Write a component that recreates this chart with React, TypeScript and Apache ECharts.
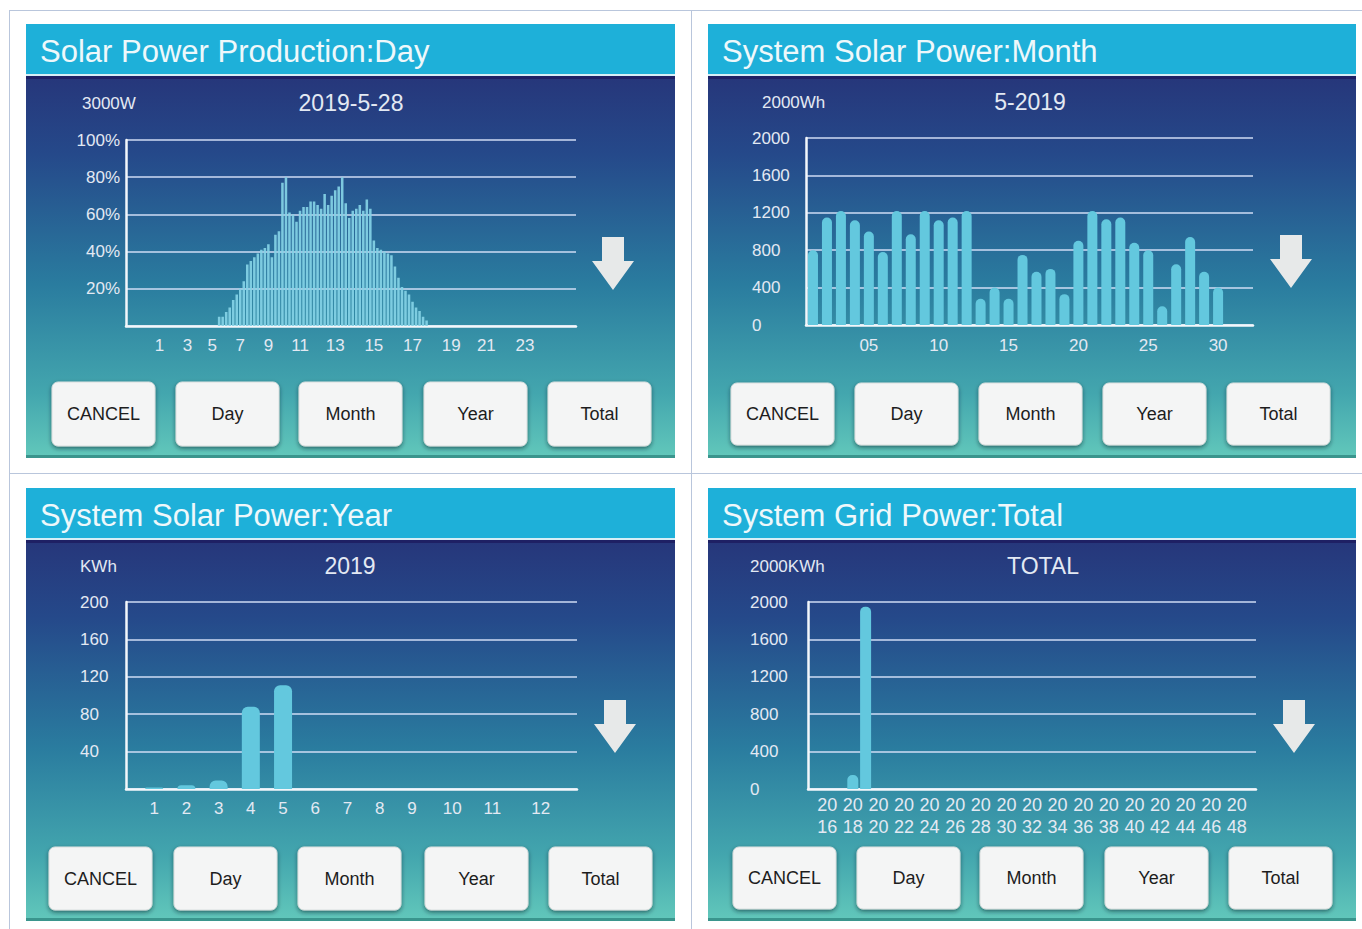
import React, { useEffect, useRef } from 'react';
import * as echarts from 'echarts';

const FONT = '"Liberation Sans", Arial, Helvetica, sans-serif';

// ---------- Panel 1: Day ----------
const dayTitle = 'Solar Power Production:Day';
const dayUnit = '3000W';
const dayDate = '2019-5-28';
const daySlotCount = 128;
const dayHourLabels = ['1', '3', '5', '7', '9', '11', '13', '15', '17', '19', '21', '23'];
const dayHourSlots = [9, 17, 24, 32, 40, 49, 59, 70, 81, 92, 102, 113];
const dayFirstBarSlot = 26;
const dayPercent = [
  5, 5, 7.5, 10, 14, 17, 20, 24, 33, 35, 37, 39, 41, 42, 44, 37, 49, 51, 77, 80,
  61, 60, 56, 62, 64, 64, 67, 67, 65, 63, 71, 65, 70, 73, 75, 80, 66, 58, 62, 63,
  65, 62, 68, 63, 46, 42, 41, 40, 39, 38, 32, 26, 21, 19, 17, 13, 10, 8, 5, 3,
];

// ---------- Panel 2: Month ----------
const monthTitle = 'System Solar Power:Month';
const monthUnit = '2000Wh';
const monthDate = '5-2019';
const monthDays = [1, 2, 3, 4, 5, 6, 7, 8, 9, 10, 11, 12, 13, 14, 15, 16, 17, 18, 19, 20, 21, 22, 23, 24, 25, 26, 27, 28, 29, 30];
const monthValues = [
  800, 1150, 1220, 1120, 1000, 780, 1220, 970, 1220, 1120, 1150, 1220, 280, 400, 280,
  750, 570, 600, 330, 900, 1220, 1130, 1150, 880, 800, 200, 650, 940, 570, 400,
];
const monthLabelDays = [5, 10, 15, 20, 25, 30];

// ---------- Panel 3: Year ----------
const yearTitle = 'System Solar Power:Year';
const yearUnit = 'KWh';
const yearDate = '2019';
const yearSlotCount = 56;
const yearMonths = ['1', '2', '3', '4', '5', '6', '7', '8', '9', '10', '11', '12'];
const yearMonthSlots = [3, 7, 11, 15, 19, 23, 27, 31, 35, 40, 45, 51];
const yearValues = [1.5, 4, 9, 88, 111, 0, 0, 0, 0, 0, 0, 0];

// ---------- Panel 4: Total ----------
const totalTitle = 'System Grid Power:Total';
const totalUnit = '2000KWh';
const totalDate = 'TOTAL';
const totalYears = [
  '2015', '2016', '2017', '2018', '2019', '2020', '2021', '2022', '2023', '2024', '2025', '2026',
  '2027', '2028', '2029', '2030', '2031', '2032', '2033', '2034', '2035', '2036', '2037', '2038',
  '2039', '2040', '2041', '2042', '2043', '2044', '2045', '2046', '2047', '2048', '2049',
];
const totalValueYears = ['2018', '2019'];
const totalValues = [150, 1950];

const buttonLabels = ['CANCEL', 'Day', 'Month', 'Year', 'Total'];

// ---------- layout ----------
const panels = [
  { x: 26, y: 24, w: 649, h: 434, title: dayTitle, unit: dayUnit, sub: dayDate, unitX: 82, subX: 351, textY: 103, arrowX: 613, arrowY: 237, btnY: 382, btnH: 64, btnX: [52, 176, 299, 424, 548] },
  { x: 708, y: 24, w: 648, h: 434, title: monthTitle, unit: monthUnit, sub: monthDate, unitX: 762, subX: 1030, textY: 102, arrowX: 1291, arrowY: 235, btnY: 383, btnH: 62, btnX: [731, 855, 979, 1103, 1227] },
  { x: 26, y: 488, w: 649, h: 433, title: yearTitle, unit: yearUnit, sub: yearDate, unitX: 80, subX: 350, textY: 566, arrowX: 615, arrowY: 700, btnY: 847, btnH: 63, btnX: [49, 174, 298, 425, 549] },
  { x: 708, y: 488, w: 648, h: 433, title: totalTitle, unit: totalUnit, sub: totalDate, unitX: 750, subX: 1043, textY: 566, arrowX: 1294, arrowY: 700, btnY: 847, btnH: 62, btnX: [733, 857, 980, 1105, 1229] },
];

const LABEL = '#e3e9f3';
const GRIDLINE = 'rgba(214,224,248,0.72)';
const AXIS = '#f3f7fb';
const BAR = '#63c8de';

function txt(x: number, y: number, text: string, size: number, fill: string, align = 'left', z = 10) {
  return {
    type: 'text',
    z,
    x,
    y,
    silent: true,
    style: {
      text,
      fill,
      fontSize: size,
      fontFamily: FONT,
      align,
      textAlign: align,
      verticalAlign: 'middle',
      textVerticalAlign: 'middle',
    },
  };
}

function panelElements(p: any) {
  const els: any[] = [];
  els.push({
    type: 'rect', z: -10, silent: true,
    shape: { x: p.x, y: p.y, width: p.w, height: p.h },
    style: {
      fill: {
        type: 'linear', x: 0, y: 0, x2: 0, y2: 1,
        colorStops: [
          { offset: 0, color: '#272a70' },
          { offset: 0.3, color: '#25498a' },
          { offset: 0.6, color: '#2a7c9f' },
          { offset: 0.85, color: '#43a6ae' },
          { offset: 1, color: '#62c8bb' },
        ],
      },
    },
  });
  els.push({ type: 'rect', z: -9, silent: true, shape: { x: p.x, y: p.y, width: p.w, height: 50 }, style: { fill: '#1eb0d9' } });
  els.push({ type: 'rect', z: -9, silent: true, shape: { x: p.x, y: p.y + 50, width: p.w, height: 2 }, style: { fill: '#d6eef6' } });
  els.push({ type: 'rect', z: -9, silent: true, shape: { x: p.x, y: p.y + 52, width: p.w, height: 3 }, style: { fill: '#1e2064' } });
  els.push({ type: 'rect', z: -9, silent: true, shape: { x: p.x, y: p.y + p.h - 3, width: p.w, height: 3 }, style: { fill: '#3a958d' } });
  els.push(txt(p.x + 14, p.y + 27, p.title, 31, '#eef8fb'));
  els.push(txt(p.unitX, p.textY, p.unit, 17, LABEL));
  els.push(txt(p.subX, p.textY, p.sub, 23, LABEL, 'center'));
  const cx = p.arrowX, t = p.arrowY;
  els.push({
    type: 'polygon', z: 10, silent: true,
    shape: { points: [[cx - 11, t], [cx + 11, t], [cx + 11, t + 24], [cx + 21, t + 24], [cx, t + 53], [cx - 21, t + 24], [cx - 11, t + 24]] },
    style: { fill: '#e7e9e9' },
  });
  p.btnX.forEach((bx: number, i: number) => {
    els.push({
      type: 'rect', z: 10, silent: true,
      shape: { x: bx, y: p.btnY, width: 103, height: p.btnH, r: 6 },
      style: { fill: '#f4f5f5', stroke: '#d9dede', lineWidth: 1, shadowBlur: 4, shadowOffsetY: 2, shadowColor: 'rgba(0,30,40,0.55)' },
    });
    els.push(txt(bx + 51.5, p.btnY + p.btnH / 2, buttonLabels[i], 18, '#1d1d1d', 'center', 11));
  });
  return els;
}

function buildOption() {
  // day categories
  const dayCats: string[] = [];
  const dayData: (number | null)[] = [];
  for (let i = 0; i < daySlotCount; i++) {
    const li = dayHourSlots.indexOf(i);
    dayCats.push(li >= 0 ? dayHourLabels[li] : '');
    const di = i - dayFirstBarSlot;
    dayData.push(di >= 0 && di < dayPercent.length ? dayPercent[di] : null);
  }
  // year categories
  const yearCats: string[] = [];
  const yearData: (number | null)[] = [];
  for (let i = 0; i < yearSlotCount; i++) {
    const mi = yearMonthSlots.indexOf(i);
    yearCats.push(mi >= 0 ? yearMonths[mi] : '');
    yearData.push(mi >= 0 ? yearValues[mi] : null);
  }
  const totalData = totalYears.map((y) => {
    const k = totalValueYears.indexOf(y);
    return k >= 0 ? totalValues[k] : null;
  });

  const yBase = (gridIndex: number, max: number, interval: number, margin: number, align: string, fmt: (v: number) => string) => ({
    type: 'value', gridIndex, min: 0, max, interval,
    axisLine: { show: true, lineStyle: { color: AXIS, width: 2.5 } },
    axisTick: { show: false },
    splitLine: { show: true, lineStyle: { color: GRIDLINE, width: 2 } },
    axisLabel: { color: LABEL, fontSize: 17, fontFamily: FONT, margin, align, formatter: fmt },
  });
  const xLine = { show: true, lineStyle: { color: AXIS, width: 2.5 } };

  const graphic: any[] = [];
  // table borders
  const bc = '#b9c6dc';
  graphic.push({ type: 'line', z: -20, silent: true, shape: { x1: 9, y1: 10.5, x2: 1362, y2: 10.5 }, style: { stroke: bc, lineWidth: 1 } });
  graphic.push({ type: 'line', z: -20, silent: true, shape: { x1: 9, y1: 473.5, x2: 1362, y2: 473.5 }, style: { stroke: bc, lineWidth: 1 } });
  graphic.push({ type: 'line', z: -20, silent: true, shape: { x1: 9.5, y1: 10, x2: 9.5, y2: 929 }, style: { stroke: bc, lineWidth: 1 } });
  graphic.push({ type: 'line', z: -20, silent: true, shape: { x1: 691.5, y1: 10, x2: 691.5, y2: 929 }, style: { stroke: bc, lineWidth: 1 } });
  panels.forEach((p) => graphic.push(...panelElements(p)));

  return {
    animation: false,
    backgroundColor: '#ffffff',
    textStyle: { fontFamily: FONT },
    grid: [
      { left: 126, top: 140, width: 450, height: 186 },
      { left: 806, top: 138, width: 447, height: 187 },
      { left: 126, top: 602, width: 451, height: 187 },
      { left: 808, top: 602, width: 448, height: 187 },
    ],
    xAxis: [
      {
        type: 'category', gridIndex: 0, data: dayCats, boundaryGap: true,
        axisLine: xLine, axisTick: { show: false }, splitLine: { show: false },
        axisLabel: { interval: 0, color: LABEL, fontSize: 17, fontFamily: FONT, margin: 11 },
      },
      {
        type: 'value', gridIndex: 1, min: 0.5, max: 32.5,
        axisLine: xLine, axisTick: { show: false }, splitLine: { show: false },
        axisLabel: {
          customValues: monthLabelDays, color: LABEL, fontSize: 17, fontFamily: FONT, margin: 12,
          formatter: (v: number) => String(v).padStart(2, '0'),
        },
      },
      {
        type: 'category', gridIndex: 2, data: yearCats, boundaryGap: true,
        axisLine: xLine, axisTick: { show: false }, splitLine: { show: false },
        axisLabel: { interval: 0, color: LABEL, fontSize: 17, fontFamily: FONT, margin: 11 },
      },
      {
        type: 'category', gridIndex: 3, data: totalYears, boundaryGap: true,
        axisLine: xLine, axisTick: { show: false }, splitLine: { show: false },
        axisLabel: {
          interval: (i: number, v: string) => Number(v) % 2 === 0 && Number(v) >= 2016 && Number(v) <= 2048,
          color: LABEL, fontSize: 18, fontFamily: FONT, margin: 5, lineHeight: 22,
          formatter: (v: string) => v.slice(0, 2) + '\n' + v.slice(2),
        },
      },
    ],
    yAxis: [
      yBase(0, 100, 20, 6, 'right', (v) => (v === 0 ? '' : v + '%')),
      yBase(1, 2000, 400, 54, 'left', (v) => String(v)),
      yBase(2, 200, 40, 46, 'left', (v) => (v === 0 ? '' : String(v))),
      yBase(3, 2000, 400, 58, 'left', (v) => String(v)),
    ],
    series: [
      {
        type: 'bar', xAxisIndex: 0, yAxisIndex: 0, data: dayData, barCategoryGap: '28%',
        itemStyle: { color: 'rgba(132,210,230,0.92)' },
      },
      {
        type: 'bar', xAxisIndex: 1, yAxisIndex: 1, data: monthDays.map((d, i) => [d, monthValues[i]]), barWidth: 10,
        itemStyle: { color: BAR, borderRadius: [5, 5, 0, 0] },
      },
      {
        type: 'bar', xAxisIndex: 2, yAxisIndex: 2, data: yearData, barWidth: 18,
        itemStyle: { color: BAR, borderRadius: [6, 6, 0, 0] },
      },
      {
        type: 'bar', xAxisIndex: 3, yAxisIndex: 3, data: totalData, barWidth: 11,
        itemStyle: { color: BAR, borderRadius: [5, 5, 0, 0] },
      },
    ],
    graphic: { elements: graphic },
  };
}

export default function App() {
  const ref = useRef<HTMLDivElement>(null);
  useEffect(() => {
    document.body.style.margin = '0';
    const chart = echarts.init(ref.current!, null, { renderer: 'svg' });
    chart.setOption(buildOption() as any);
    return () => chart.dispose();
  }, []);
  return <div ref={ref} style={{ width: 1362, height: 929 }} />;
}
